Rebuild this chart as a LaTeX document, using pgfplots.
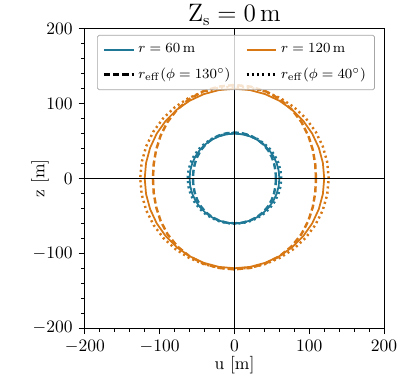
\documentclass[border=0pt]{standalone}
\usepackage{pgfplots}
\pgfplotsset{compat=1.18}

\definecolor{cblue}{RGB}{31,120,150}
\definecolor{corange}{RGB}{215,120,20}

\begin{document}
\begin{tikzpicture}
  \begin{axis}[
    scale only axis,
    width=171pt, height=171pt,
    xmin=-200, xmax=200, ymin=-200, ymax=200,
    xtick={-200,-100,0,100,200},
    ytick={-200,-100,0,100,200},
    minor tick num=4,
    tick pos=left,
    tick align=outside,
    major tick length=3.5pt,
    minor tick length=2pt,
    every tick/.style={black, line width=0.5pt},
    axis line style={line width=0.6pt},
    xlabel={u [m]},
    ylabel={z [m]},
    xlabel style={at={(axis description cs:0.5,-0.125)}, anchor=center},
    ylabel style={at={(axis description cs:-0.15,0.5)}, anchor=center},
    title={$\mathrm{Z}_{\mathrm{s}} = 0\,\mathrm{m}$},
    every axis title shift=0pt,
    title style={at={(axis description cs:0.5,1)}, anchor=base, yshift=4pt,
      inner sep=0pt, font=\fontsize{13.5}{16}\selectfont},
    legend columns=2,
    legend cell align=left,
    legend style={
      at={(axis description cs:0.505,0.98)}, anchor=north,
      font=\fontsize{8.5}{10}\selectfont,
      draw=gray!70, fill=white, fill opacity=0.8, draw opacity=1, text opacity=1,
      rounded corners=1pt,
      row sep=3pt,
      inner ysep=3pt,
      /tikz/column 2/.style={column sep=6.5pt},
    },
  ]
    % legend entries
    \addlegendimage{cblue, line width=1pt}
    \addlegendentry{$r = 60\,\mathrm{m}$}
    \addlegendimage{corange, line width=1pt}
    \addlegendentry{$r = 120\,\mathrm{m}$}
    \addlegendimage{black, line width=1.4pt, dash pattern=on 3.5pt off 1.8pt}
    \addlegendentry{$r_{\mathrm{eff}}(\phi = 130^{\circ})$}
    \addlegendimage{black, line width=1.4pt, dash pattern=on 1.2pt off 1.8pt}
    \addlegendentry{$r_{\mathrm{eff}}(\phi = 40^{\circ})$}

    % r = 60 m
    \addplot[cblue, line width=1pt, forget plot] coordinates {
      (60,0) (59.09,10.42) (56.38,20.52) (51.96,30) (45.96,38.57) (38.57,45.96)
      (30,51.96) (20.52,56.38) (10.42,59.09) (0,60)
      (-10.42,59.09) (-20.52,56.38) (-30,51.96) (-38.57,45.96) (-45.96,38.57)
      (-51.96,30) (-56.38,20.52) (-59.09,10.42) (-60,0)
      (-59.09,-10.42) (-56.38,-20.52) (-51.96,-30) (-45.96,-38.57) (-38.57,-45.96)
      (-30,-51.96) (-20.52,-56.38) (-10.42,-59.09) (0,-60)
      (10.42,-59.09) (20.52,-56.38) (30,-51.96) (38.57,-45.96) (45.96,-38.57)
      (51.96,-30) (56.38,-20.52) (59.09,-10.42) (60,0)
    };
    % r_eff, phi = 130, r = 60
    \addplot[cblue, line width=1.4pt, dash pattern=on 3.5pt off 1.8pt, forget plot] coordinates {
      (55.5,0) (54.92,9.68) (53.10,19.33) (49.85,28.78) (44.97,37.74) (38.41,45.77)
      (30.28,52.45) (20.90,57.42) (10.66,60.48) (0,61.5)
      (-10.66,60.48) (-20.90,57.42) (-30.28,52.45) (-38.41,45.77) (-44.97,37.74)
      (-49.85,28.78) (-53.10,19.33) (-54.92,9.68) (-55.5,0)
      (-54.92,-9.68) (-53.08,-19.32) (-49.77,-28.74) (-44.77,-37.57) (-38.07,-45.37)
      (-29.86,-51.72) (-20.50,-56.33) (-10.42,-59.09) (0,-60)
      (10.42,-59.09) (20.50,-56.33) (29.86,-51.72) (38.07,-45.37) (44.77,-37.57)
      (49.77,-28.74) (53.08,-19.32) (54.92,-9.68) (55.5,0)
    };
    % r_eff, phi = 40, r = 60
    \addplot[cblue, line width=1.4pt, dash pattern=on 1.2pt off 1.8pt, forget plot] coordinates {
      (62.5,0) (61.49,10.84) (58.52,21.30) (53.69,31.00) (47.24,39.64) (39.42,46.98)
      (30.50,52.83) (20.77,57.07) (10.51,59.64) (0,60.5)
      (-10.51,59.64) (-20.77,57.07) (-30.50,52.83) (-39.42,46.98) (-47.24,39.64)
      (-53.69,31.00) (-58.52,21.30) (-61.49,10.84) (-62.5,0)
      (-61.49,-10.84) (-58.52,-21.30) (-53.69,-31.00) (-47.24,-39.64) (-39.42,-46.98)
      (-30.50,-52.83) (-20.77,-57.07) (-10.51,-59.64) (0,-60.5)
      (10.51,-59.64) (20.77,-57.07) (30.50,-52.83) (39.42,-46.98) (47.24,-39.64)
      (53.69,-31.00) (58.52,-21.30) (61.49,-10.84) (62.5,0)
    };

    % r = 120 m
    \addplot[corange, line width=1pt, forget plot] coordinates {
      (120,0) (118.18,20.84) (112.76,41.04) (103.92,60) (91.92,77.13) (77.13,91.92)
      (60,103.92) (41.04,112.76) (20.84,118.18) (0,120)
      (-20.84,118.18) (-41.04,112.76) (-60,103.92) (-77.13,91.92) (-91.92,77.13)
      (-103.92,60) (-112.76,41.04) (-118.18,20.84) (-120,0)
      (-118.18,-20.84) (-112.76,-41.04) (-103.92,-60) (-91.92,-77.13) (-77.13,-91.92)
      (-60,-103.92) (-41.04,-112.76) (-20.84,-118.18) (0,-120)
      (20.84,-118.18) (41.04,-112.76) (60,-103.92) (77.13,-91.92) (91.92,-77.13)
      (103.92,-60) (112.76,-41.04) (118.18,-20.84) (120,0)
    };
    % r_eff, phi = 130, r = 120
    \addplot[corange, line width=1.4pt, dash pattern=on 3.5pt off 1.8pt, forget plot] coordinates {
      (109,0) (107.99,19.04) (104.77,38.13) (98.83,57.06) (89.67,75.25) (77.03,91.80)
      (61.06,105.76) (42.32,116.29) (21.65,122.79) (0,125)
      (-21.65,122.79) (-42.32,116.29) (-61.06,105.76) (-77.03,91.80) (-89.67,75.25)
      (-98.83,57.06) (-104.77,38.13) (-107.99,19.04) (-109,0)
      (-107.98,-19.04) (-104.72,-38.11) (-98.64,-56.95) (-89.22,-74.87) (-76.26,-90.88)
      (-60.08,-104.05) (-41.39,-113.72) (-21.08,-119.56) (0,-121.5)
      (21.08,-119.56) (41.39,-113.72) (60.08,-104.05) (76.26,-90.88) (89.22,-74.87)
      (98.64,-56.95) (104.72,-38.11) (107.98,-19.04) (109,0)
    };
    % r_eff, phi = 40, r = 120
    \addplot[corange, line width=1.4pt, dash pattern=on 1.2pt off 1.8pt, forget plot] coordinates {
      (126,0) (124.00,21.86) (118.07,42.97) (108.47,62.63) (95.57,80.20) (79.86,95.17)
      (61.88,107.17) (42.19,115.91) (21.37,121.22) (0,123)
      (-21.37,121.22) (-42.19,115.91) (-61.88,107.17) (-79.86,95.17) (-95.57,80.20)
      (-108.47,62.63) (-118.07,42.97) (-124.00,21.86) (-126,0)
      (-123.94,-21.85) (-117.86,-42.89) (-108.03,-62.38) (-94.93,-79.66) (-79.11,-94.27)
      (-61.13,-105.87) (-41.58,-114.26) (-21.03,-119.31) (0,-121)
      (21.03,-119.31) (41.58,-114.26) (61.13,-105.87) (79.11,-94.27) (94.93,-79.66)
      (108.03,-62.38) (117.86,-42.89) (123.94,-21.85) (126,0)
    };

    % zero lines
    \addplot[black, line width=0.55pt, forget plot] coordinates {(-200,0) (200,0)};
    \addplot[black, line width=0.55pt, forget plot] coordinates {(0,-200) (0,200)};
  \end{axis}
  \path (current axis.south west) ++(-48.5pt,-34.8pt) coordinate (bbsw);
  \path (current axis.north east) ++(13.1pt,16.5pt) coordinate (bbne);
  \path (bbsw) rectangle (bbne);
\end{tikzpicture}
\end{document}
